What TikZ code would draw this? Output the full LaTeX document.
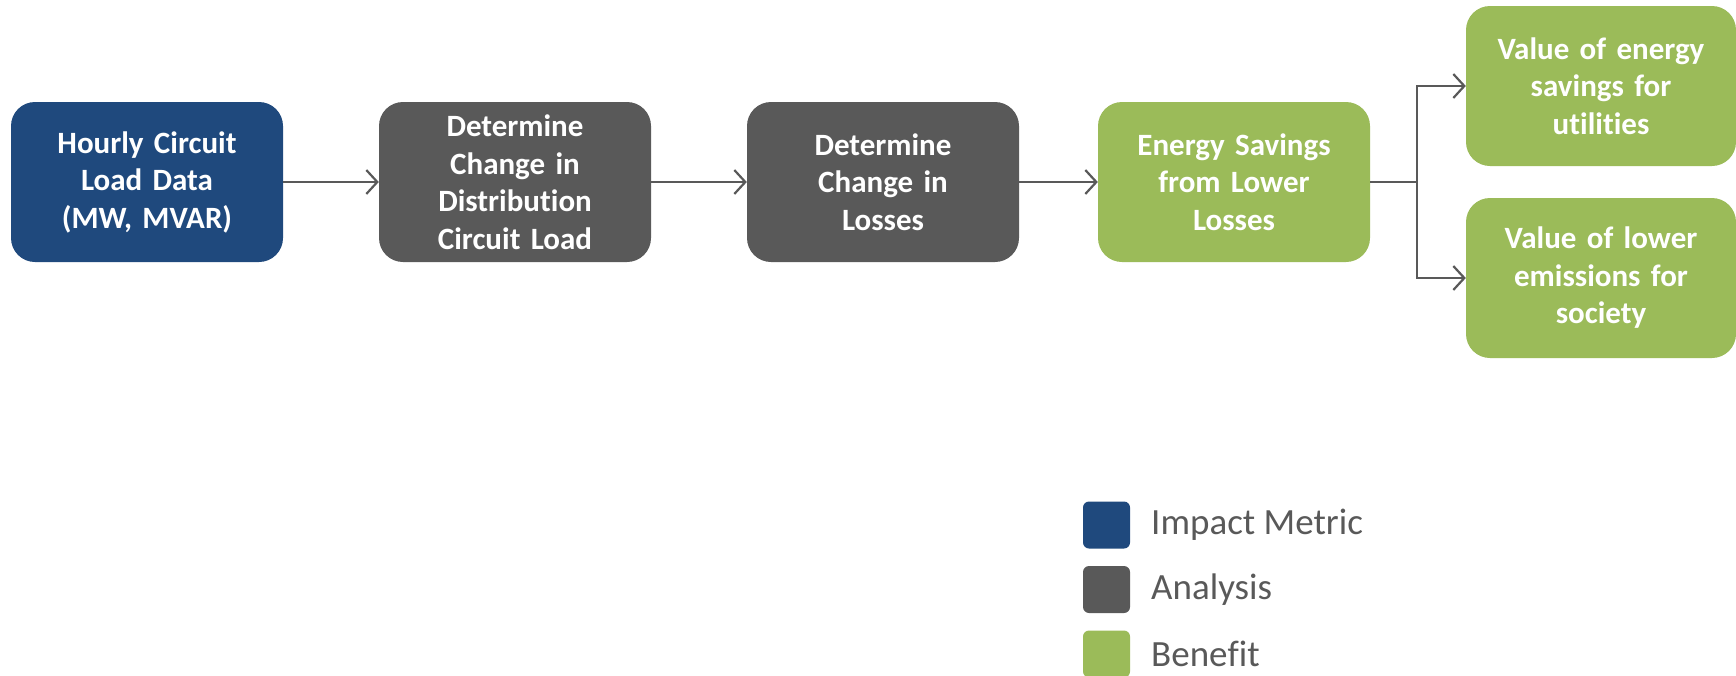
\documentclass[tikz,border=0pt]{standalone}
\usepackage{fontspec}
\setmainfont{Carlito}[RawFeature={-liga;-clig;-calt;-dlig}]
\usetikzlibrary{arrows.meta}
\definecolor{cblue}{HTML}{1F497D}
\definecolor{cgrey}{HTML}{595959}
\definecolor{cgreen}{HTML}{9BBB59}
\begin{document}
\begin{tikzpicture}[x=1pt,y=-1pt,
  box/.style={rounded corners=24pt, minimum width=272pt, minimum height=160pt, text width=250pt, align=center, text=white, font=\fontsize{31}{37.5}\selectfont\bfseries, inner sep=0pt},
  impact/.style={box, fill=cblue},
  analysis/.style={box, fill=cgrey},
  benefit/.style={box, fill=cgreen},
  conn/.style={draw=cgrey, line width=2.2pt, -{Straight Barb[length=11pt,width=24pt,line width=2.2pt]}},
  legsq/.style={rounded corners=6pt, minimum width=47pt, minimum height=47pt, inner sep=0pt},
  legtxt/.style={anchor=west, text=cgrey, font=\fontsize{37}{44}\selectfont, inner sep=0pt}]
\useasboundingbox (0,0) rectangle (1736,675);
\node[impact] (b1) at (147,182) {Hourly Circuit\\Load Data\\(MW, MVAR)};
\node[analysis] (b2) at (515,182) {Determine\\Change in\\Distribu\kern0pt tion\\Circuit Load};
\node[analysis] (b3) at (883,182) {Determine\\Change in\\Losses};
\node[benefit] (b4) at (1234,182) {Energy Savings\\from Lower\\Losses};
\node[benefit, minimum width=270pt] (b5) at (1601,86) {Value of energy\\savings for\\utilities};
\node[benefit, minimum width=270pt] (b6) at (1601,278) {Value of lower\\emissions for\\society};
\coordinate (br) at (1417,182);
\draw[conn] (b1.east) -- (b2.west);
\draw[conn] (b2.east) -- (b3.west);
\draw[conn] (b3.east) -- (b4.west);
\draw[draw=cgrey, line width=2.2pt] (b4.east) -- (br);
\draw[conn] (br) |- (b5.west);
\draw[conn] (br) |- (b6.west);
\node[legsq, fill=cblue] (l1) at (1106.5,525) {};
\node[legsq, fill=cgrey] (l2) at (1106.5,589.5) {};
\node[legsq, fill=cgreen] (l3) at (1106.5,654) {};
\node[legtxt] (t1) at (1151,525) {Impact Metric};
\node[legtxt] (t2) at (1151,589.5) {Analysis};
\node[legtxt] (t3) at (1151,654) {Bene\kern0pt fit};
\end{tikzpicture}
\end{document}
